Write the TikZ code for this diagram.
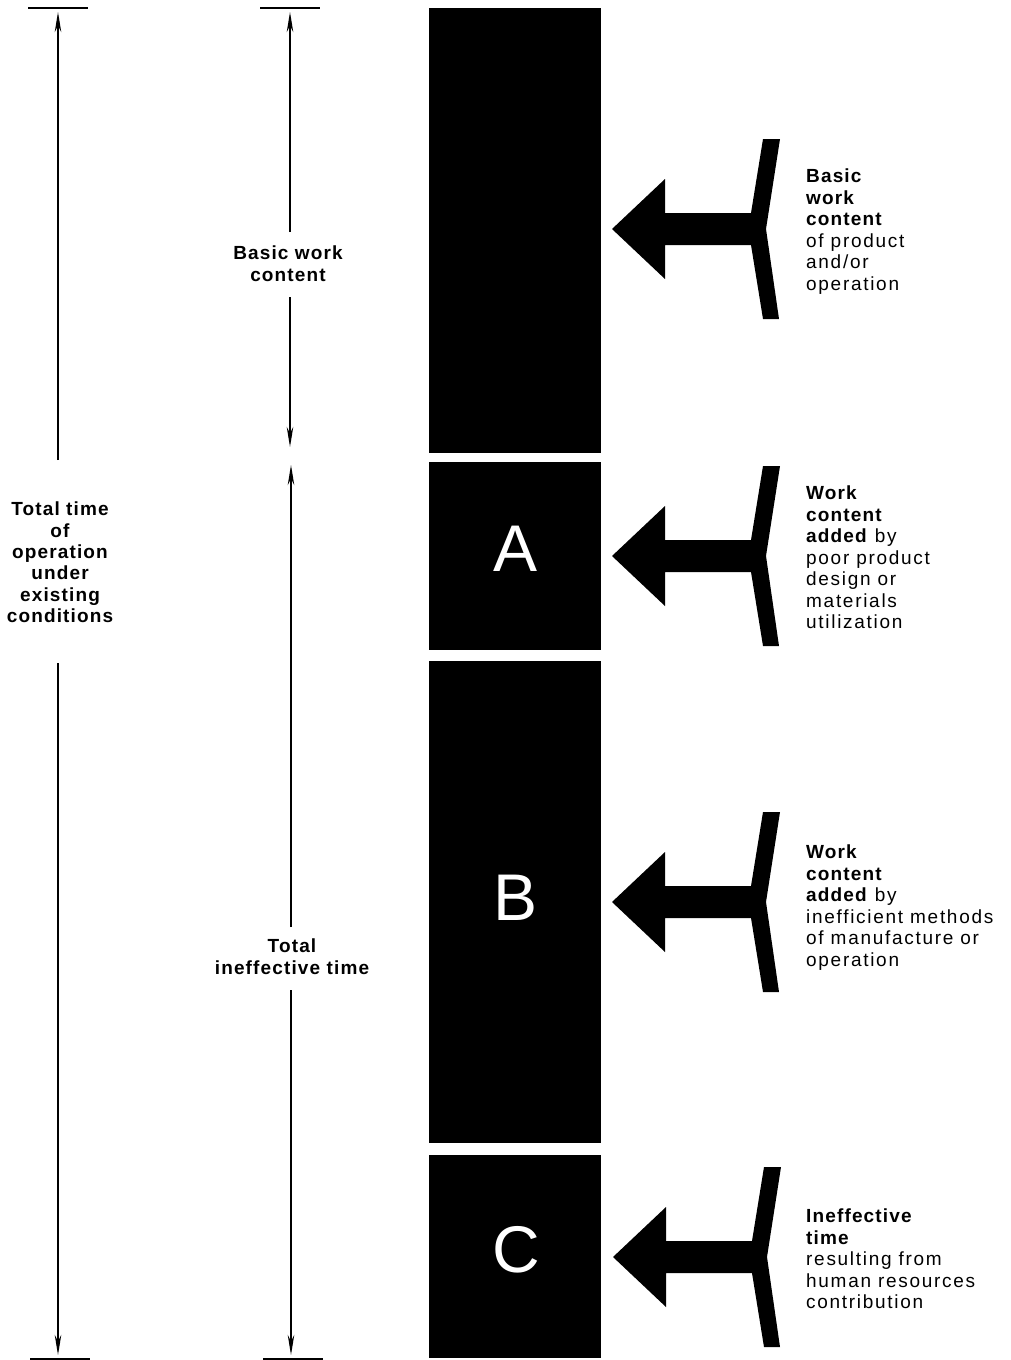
\documentclass[tikz,border=0pt]{standalone}
\usepackage{fontspec}
\setmainfont{Liberation Sans}[LetterSpace=9, BoldFeatures={LetterSpace=6}]
\newfontfamily\letterfont{Liberation Sans}
\usetikzlibrary{arrows.meta}
\begin{document}
\begin{tikzpicture}[x=1pt,y=-1pt,
  bar/.style={fill=black, draw=none, minimum width=172pt, inner sep=0pt, outer sep=0pt, anchor=north west},
  letter/.style={text=white, font=\letterfont\fontsize{66}{66}\selectfont, inner sep=0pt},
  desc/.style={font=\fontsize{19}{21.5}\selectfont, align=left, anchor=north west, inner sep=0pt},
  dimlabel/.style={font=\bfseries\fontsize{19}{21.3}\selectfont, align=center, anchor=north, inner sep=0pt},
  dimline/.style={line width=1.7pt, -{Stealth[length=20pt,width=6.5pt]}},
  tick/.style={line width=2.4pt},
  fork/.pic={\fill (0,0) -- (53,-50) -- (53,-16) -- (139,-16) -- (151,-90) -- (168,-90) -- (154,0)
      -- (167,90) -- (151,90) -- (139,16) -- (53,16) -- (53,50) -- cycle;}
]
\useasboundingbox (0,0) rectangle (1010,1360);

% bars
\node[bar, minimum height=445pt] (bar0) at (429,8) {};
\node[bar, minimum height=188pt] (barA) at (429,462) {};
\node[bar, minimum height=482pt] (barB) at (429,661) {};
\node[bar, minimum height=203pt] (barC) at (429,1155) {};
\node[letter] (lA) at (516,549) {A};
\node[letter] (lB) at (516,898) {B};
\node[letter] (lC) at (516,1250) {C};

% block arrows
\path (612,229) pic {fork};
\path (612,556) pic {fork};
\path (612,902) pic {fork};
\path (613,1257) pic {fork};

% descriptions
\node[desc] (d0) at (806,169) {\textbf{Basic}\\\textbf{work}\\\textbf{content}\\of product\\and/or\\operation};
\node[desc] (dA) at (806,486) {\textbf{Work}\\\textbf{content}\\\textbf{added} by\\poor product\\design or\\materials\\utilization};
\node[desc] (dB) at (806,845) {\textbf{Work}\\\textbf{content}\\\textbf{added} by\\inefficient methods\\of manufacture or\\operation};
\node[desc] (dC) at (806,1209) {\textbf{Ineffective}\\\textbf{time}\\resulting from\\human resources\\contribution};

% dimension labels
\node[dimlabel] (tot) at (60,502) {Total time\\of\\operation\\under\\existing\\conditions};
\node[dimlabel] (bwc) at (288,246) {Basic work\\content};
\node[dimlabel] (tit) at (292,939) {Total\\ineffective time};

% left dimension
\coordinate (Lt0) at (28,8); \coordinate (Lt1) at (88,8);
\coordinate (Lb0) at (30,1359); \coordinate (Lb1) at (90,1359);
\coordinate (Ltop) at (58,12); \coordinate (Lbot) at (58,1355);
\coordinate (Lu) at (58,460); \coordinate (Ld) at (58,663);
\draw[tick] (Lt0) -- (Lt1);
\draw[tick] (Lb0) -- (Lb1);
\draw[dimline] (Lu) -- (Ltop);
\draw[dimline] (Ld) -- (Lbot);

% middle dimension
\coordinate (Mt0) at (260,8); \coordinate (Mt1) at (320,8);
\coordinate (Mb0) at (263,1359); \coordinate (Mb1) at (323,1359);
\coordinate (Mtop) at (290,12); \coordinate (M1u) at (290,232);
\coordinate (M1d) at (290,297); \coordinate (M1e) at (290,447);
\coordinate (M2s) at (291,465); \coordinate (M2u) at (291,927);
\coordinate (M2d) at (291,990); \coordinate (Mbot) at (291,1355);
\draw[tick] (Mt0) -- (Mt1);
\draw[tick] (Mb0) -- (Mb1);
\draw[dimline] (M1u) -- (Mtop);
\draw[dimline] (M1d) -- (M1e);
\draw[dimline] (M2u) -- (M2s);
\draw[dimline] (M2d) -- (Mbot);
\end{tikzpicture}
\end{document}
